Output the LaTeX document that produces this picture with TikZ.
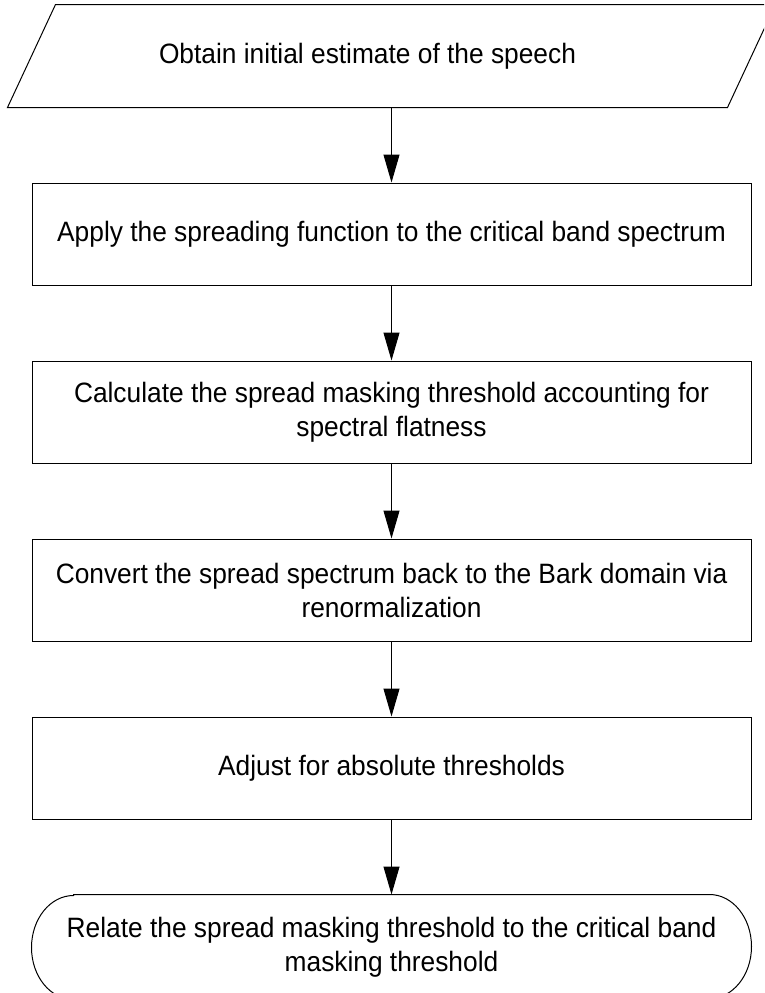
\documentclass[tikz,border=0pt]{standalone}
\usepackage{fontspec}
\setmainfont{Liberation Sans}[FakeStretch=0.94]
\usetikzlibrary{arrows.meta}
\begin{document}
\begin{tikzpicture}[x=1pt, y=1pt,
    font=\fontsize{28}{34}\selectfont,
    stepbox/.style={draw, line width=1pt, minimum width=719pt, minimum height=102pt, align=center, inner sep=0pt},
    flow/.style={line width=1pt, -{Triangle[length=28pt, width=16pt]}}]
                \clip (0,0) rectangle (764,-993);
                % input at the top
                \node[stepbox, draw=none] (obtain) at (367.5,-56) {Obtain initial estimate of the speech};
                \draw[line width=1pt] (obtain.south west) -- ([xshift=48pt]obtain.north west)
                    -- ([xshift=48pt]obtain.north east) -- (obtain.south east) -- cycle;
                % process steps
                \node[stepbox] (apply) at (391.5,-234) {Apply the spreading function to the critical band spectrum};
                \node[stepbox] (calc) at (391.5,-412) {Calculate the spread masking threshold accounting for\\spectral flatness};
                \node[stepbox] (convert) at (391.5,-590) {Convert the spread spectrum back to the Bark domain via\\renormalization};
                \node[stepbox] (adjust) at (391.5,-768) {Adjust for absolute thresholds};
                % terminator at the bottom
                \node[stepbox, draw=none, minimum height=104pt] (relate) at (391.5,-947) {Relate the spread masking threshold to the critical band\\masking threshold};
                \draw[line width=1pt] ([xshift=42pt]relate.north west) -- ([xshift=-42pt]relate.north east)
                    arc[start angle=90, end angle=-90, x radius=42pt, y radius=52pt]
                    -- ([xshift=42pt]relate.south west)
                    arc[start angle=270, end angle=90, x radius=42pt, y radius=52pt] -- cycle;
                \draw[flow] (obtain.south -| apply.north) -- (apply);
                \foreach \a/\b in {apply/calc, calc/convert, convert/adjust, adjust/relate}
                    \draw[flow] (\a) -- (\b);
            \end{tikzpicture}
\end{document}
